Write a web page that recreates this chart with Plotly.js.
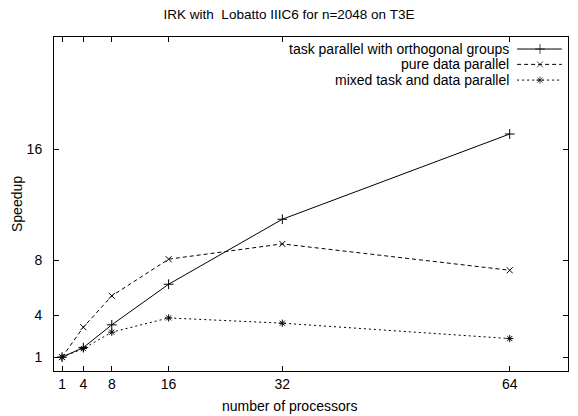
<!DOCTYPE html>
<html>
<head>
<meta charset="utf-8">
<script src="https://cdn.plot.ly/plotly-3.0.1.min.js"></script>
<style>html,body{margin:0;padding:0;background:#fff;}#chart{width:578px;height:416px;}</style>
</head>
<body>
<div id="chart"></div>
<script>
var processors = [1, 4, 8, 16, 32, 64];
var taskParallel = [1, 1.69, 3.33, 6.26, 10.95, 17.1];
var pureData = [1, 3.16, 5.42, 8.07, 9.17, 7.27];
var mixedParallel = [1, 1.62, 2.80, 3.83, 3.45, 2.34];
var seriesNames = ["task parallel with orthogonal groups", "pure data parallel", "mixed task and data parallel"];
var xTicks = [1, 4, 8, 16, 32, 64];
var yTicks = [1, 4, 8, 16];

var styles = [
  {dash: "solid", symbol: "cross-thin-open", size: 7},
  {dash: "4px,3px", symbol: "x-thin-open", size: 6},
  {dash: "2px,3px", symbol: "asterisk-open", size: 6}
];
var seriesData = [taskParallel, pureData, mixedParallel];
var FAM = "Liberation Sans, Arial, sans-serif";
var font = {family: FAM, size: 14, color: "#000"};
var keyFont = {family: FAM, size: 14, color: "#000"};
var titleFont = {family: FAM, size: 13.5, color: "#000"};

var traces = [];
seriesData.forEach(function (ys, i) {
  traces.push({
    x: processors, y: ys, type: "scatter", mode: "lines+markers",
    name: seriesNames[i], showlegend: false,
    line: {color: "#000", width: 1, dash: styles[i].dash},
    marker: {symbol: styles[i].symbol, size: styles[i].size, color: "#000", line: {color: "#000", width: 1}}
  });
});

// legend keys (text on the left, sample on the right, gnuplot style)
var keyY = [0.964, 0.918, 0.871];
var annotations = [];
seriesNames.forEach(function (n, i) {
  traces.push({
    x: [0.901, 0.9455, 0.988], y: [keyY[i], keyY[i], keyY[i]],
    xaxis: "x2", yaxis: "y2", type: "scatter", mode: "lines+markers",
    showlegend: false, hoverinfo: "skip",
    line: {color: "#000", width: 1, dash: styles[i].dash},
    marker: {symbol: styles[i].symbol, size: [0, styles[i].size, 0], color: "#000", line: {color: "#000", width: 1}}
  });
  annotations.push({
    text: n, xref: "paper", yref: "paper", x: 0.889, y: keyY[i],
    xanchor: "right", yanchor: "middle", showarrow: false, font: keyFont
  });
});
// x axis title, centred on the page as in the original
annotations.push({
  text: "number of processors", xref: "paper", yref: "paper",
  x: (289 - 54) / 514, y: -0.105, xanchor: "center", yanchor: "middle",
  showarrow: false, font: font
});

var layout = {
  width: 578, height: 416,
  margin: {l: 54, r: 10, t: 37, b: 45},
  paper_bgcolor: "#fff", plot_bgcolor: "#fff",
  font: font,
  showlegend: false,
  title: {text: "IRK with  Lobatto IIIC6 for n=2048 on T3E", font: titleFont, xref: "container", x: 0.5, xanchor: "center", y: 0.965, yanchor: "middle"},
  xaxis: {
    range: [-0.13, 72.2], tickmode: "array", tickvals: xTicks, ticktext: xTicks.map(String),
    ticks: "inside", ticklen: 5, tickcolor: "#000", tickwidth: 1,
    showline: true, linecolor: "#000", linewidth: 1, mirror: "allticks",
    showgrid: false, zeroline: false, ticklabelstandoff: 0,
    tickfont: font
  },
  yaxis: {
    range: [0, 24.1], tickmode: "array", tickvals: yTicks, ticktext: yTicks.map(String),
    ticks: "inside", ticklen: 5, tickcolor: "#000", tickwidth: 1,
    showline: true, linecolor: "#000", linewidth: 1, mirror: "allticks",
    showgrid: false, zeroline: false, ticklabelstandoff: 8,
    tickfont: font,
    title: {text: "Speedup", font: font, standoff: 0}
  },
  xaxis2: {overlaying: "x", range: [0, 1], visible: false, fixedrange: true},
  yaxis2: {overlaying: "y", range: [0, 1], visible: false, fixedrange: true},
  annotations: annotations
};

Plotly.newPlot("chart", traces, layout, {displayModeBar: false, staticPlot: true});
</script>
</body>
</html>
